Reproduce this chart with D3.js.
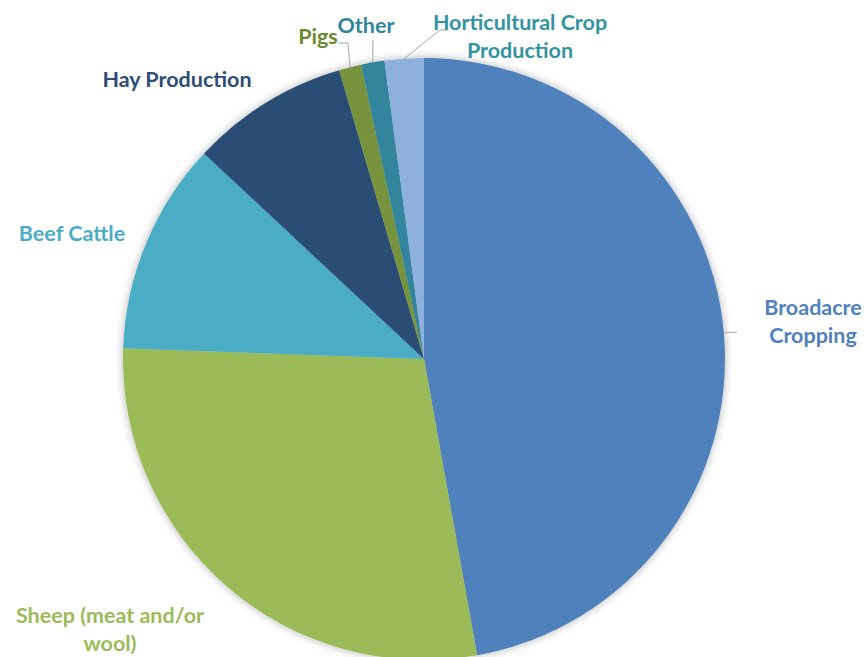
<!DOCTYPE html>
<html>
<head>
<meta charset="utf-8">
<script src="https://cdn.jsdelivr.net/npm/d3@7"></script>
<style>
  body { margin: 0; background: #fff; }
  svg { display: block; }
  text { font-family: Lato, "Open Sans", sans-serif; font-weight: bold; }
</style>
</head>
<body>
<div id="chart"></div>
<script>
// share of farm businesses by main activity (%)
var categories = ['Broadacre Cropping', 'Sheep (meat and/or wool)', 'Beef Cattle', 'Hay Production', 'Pigs', 'Other', 'Horticultural Crop Production'];
var values = [47.2, 28.4, 11.4, 8.5, 1.2, 1.25, 2.1];
var colours = ['#4f81bd', '#9bbb59', '#4bacc6', '#2c4d75', '#77933c', '#31859c', '#8eb0dc'];
var labelColours = ['#4f81bd', '#9bbb59', '#4bacc6', '#2c4d75', '#6b8a2e', '#31859c', '#31949f'];

var width = 866, height = 657
var cx = 424, cy = 359, radius = 301

// label lines and where they sit
var labelLines = [
  ['Broadacre', 'Cropping'],
  ['Sheep (meat and/or', 'wool)'],
  ['Beef Cattle'],
  ['Hay Production'],
  ['Pigs'],
  ['Other'],
  ['Horticultural Crop', 'Production']
]
var labelPos = [
  {x: 813, y: 315}, {x: 110, y: 623}, {x: 72, y: 241}, {x: 177, y: 87},
  {x: 318, y: 44}, {x: 366, y: 33}, {x: 520, y: 30}
]
// leader points after the slice edge (a null y keeps the edge's y)
var leaders = [
  [[737, null]],
  null, null, null,
  [[348, 43], [338, 43]],
  [[373, 40]],
  [[440, 30], [447, 30]]
]

var svg = d3.select('#chart').append('svg').attr('width', width).attr('height', height)

var defs = svg.append('defs')
var f = defs.append('filter').attr('id', 'shadow').attr('x', '-10%').attr('y', '-10%').attr('width', '120%').attr('height', '120%')
f.append('feDropShadow').attr('dx', 0).attr('dy', 0).attr('stdDeviation', 4).attr('flood-color', '#000').attr('flood-opacity', 0.3)

var pie = d3.pie().sort(null).value(function(d){ return d })
var arcs = pie(values)
var arc = d3.arc().innerRadius(0).outerRadius(radius)

var g = svg.append('g').attr('transform', 'translate(' + cx + ',' + cy + ')')

g.append('g').attr('filter', 'url(#shadow)')
  .selectAll('path')
  .data(arcs)
  .enter().append('path')
  .attr('d', arc)
  .attr('fill', function(d, i){ return colours[i] })

// leaders start at the slice edge midpoint
arcs.forEach(function(d, i){
  if (!leaders[i]) return
  var a = (d.startAngle + d.endAngle) / 2
  var p0 = [cx + radius * Math.sin(a), cy - radius * Math.cos(a)]
  var pts = [p0].concat(leaders[i].map(function(p){ return [p[0], p[1] == null ? p0[1] : p[1]] }))
  svg.append('path')
    .attr('d', d3.line()(pts))
    .attr('fill', 'none')
    .attr('stroke', '#a6a6a6')
    .attr('stroke-width', 1)
})

labelLines.forEach(function(lines, i){
  var t = svg.append('text')
    .attr('x', labelPos[i].x)
    .attr('y', labelPos[i].y)
    .attr('text-anchor', 'middle')
    .style('font-size', '21.5px')
    .style('fill', labelColours[i])
  lines.forEach(function(l, j){
    t.append('tspan').attr('x', labelPos[i].x).attr('dy', j ? 28 : 0).text(l)
  })
})
</script>
</body>
</html>
